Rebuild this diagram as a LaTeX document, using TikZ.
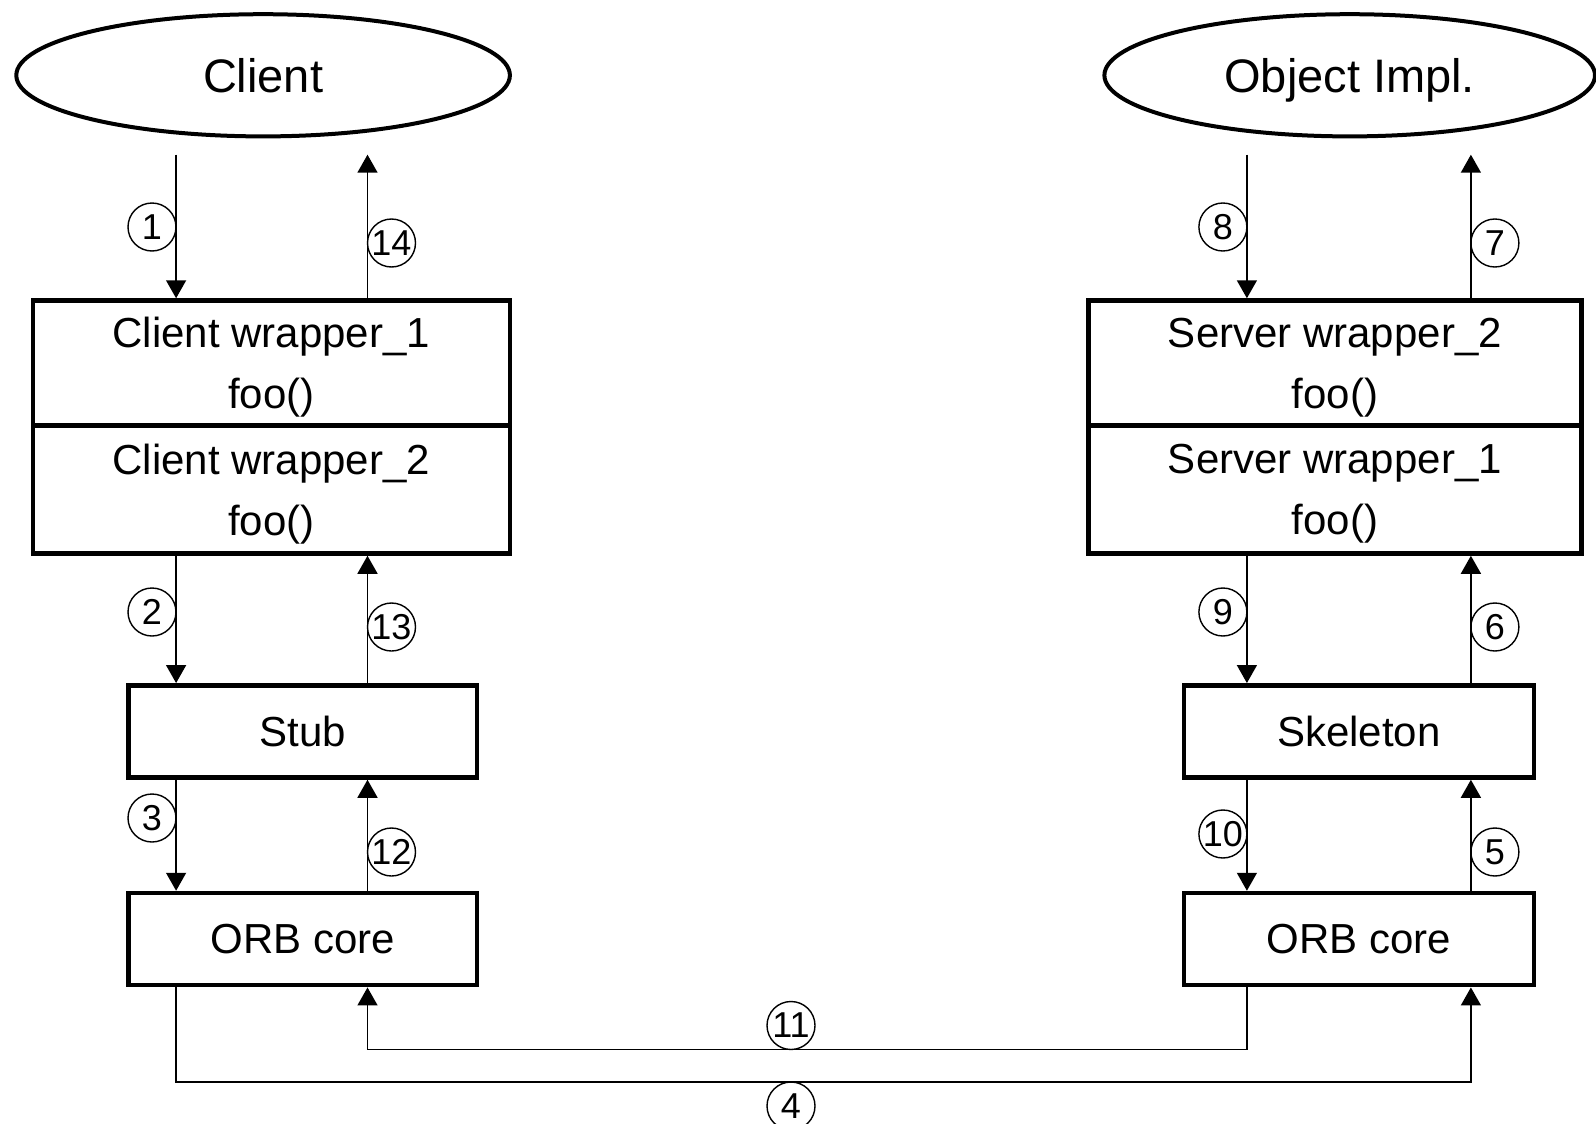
\documentclass[tikz,border=0pt]{standalone}
\usepackage{fontspec}
\setmainfont{Liberation Sans}
\usetikzlibrary{arrows.meta,shapes.geometric}

\begin{document}
\begin{tikzpicture}[x=0.5pt, y=-0.5pt,
  actor/.style={ellipse, draw, line width=2pt, inner sep=0pt, text depth=0pt,
    font=\fontsize{23.5}{28}\selectfont},
  layer/.style={rectangle, draw, line width=2.25pt, inner sep=0pt, text depth=0pt,
    align=center, font=\fontsize{21}{30.5}\selectfont},
  flow/.style={line width=0.75pt, -{Triangle[width=10pt,length=9pt]}},
  num/.style={circle, draw, line width=0.7pt, inner sep=0pt,
    minimum size=24pt, font=\fontsize{18}{18}\selectfont}]

\useasboundingbox (0,0) rectangle (1596,1124);

% column positions of the vertical connectors
\coordinate (Ld) at (176.1,0);
\coordinate (Lu) at (367.5,0);
\coordinate (Rd) at (1246.9,0);
\coordinate (Ru) at (1470.9,0);
% rows of the two long return lines
\coordinate (y11) at (0,1049.5);
\coordinate (y4) at (0,1082);
\coordinate (ytop) at (0,154.7);

% client side
\node[actor, minimum width=246.8pt, minimum height=61.1pt] (client) at (263.1,75.3) {Client};
\node[layer, minimum width=238.5pt, minimum height=62.5pt] (cw1) at (271.25,363) {Client wrapper\_1\\foo()};
\node[layer, minimum width=238.5pt, minimum height=64pt] (cw2) at (271.25,489.5) {Client wrapper\_2\\foo()};
\node[layer, minimum width=174.4pt, minimum height=46.1pt] (stub) at (302.8,731.4) {Stub};
\node[layer, minimum width=174.4pt, minimum height=46.1pt] (orbL) at (302.8,939.1) {ORB core};

% server side
\node[actor, minimum width=245.3pt, minimum height=61.1pt] (impl) at (1349.7,75.3) {Object Impl.};
\node[layer, minimum width=246.6pt, minimum height=62.5pt] (sw2) at (1334.9,363) {Server wrapper\_2\\foo()};
\node[layer, minimum width=246.6pt, minimum height=64pt] (sw1) at (1334.9,489.5) {Server wrapper\_1\\foo()};
\node[layer, minimum width=174.9pt, minimum height=46.1pt] (skel) at (1358.9,731.4) {Skeleton};
\node[layer, minimum width=174.9pt, minimum height=46.1pt] (orbR) at (1358.9,939.1) {ORB core};

% request path, client side
\draw[flow] (Ld |- ytop) -- (cw1.north -| Ld);
\draw[flow] (cw2.south -| Ld) -- (stub.north -| Ld);
\draw[flow] (stub.south -| Ld) -- (orbL.north -| Ld);
% reply path, client side
\draw[flow] (stub.north -| Lu) -- (cw2.south -| Lu);
\draw[flow] (orbL.north -| Lu) -- (stub.south -| Lu);
\draw[flow] (cw1.north -| Lu) -- (Lu |- ytop);

% request path, server side
\draw[flow] (orbR.north -| Ru) -- (skel.south -| Ru);
\draw[flow] (skel.north -| Ru) -- (sw1.south -| Ru);
\draw[flow] (sw2.north -| Ru) -- (Ru |- ytop);
% reply path, server side
\draw[flow] (Rd |- ytop) -- (sw2.north -| Rd);
\draw[flow] (sw1.south -| Rd) -- (skel.north -| Rd);
\draw[flow] (skel.south -| Rd) -- (orbR.north -| Rd);

% network between the two ORB cores
\draw[flow] (orbL.south -| Ld) -- (Ld |- y4) -- (Ru |- y4) -- (orbR.south -| Ru);
\draw[flow] (orbR.south -| Rd) -- (Rd |- y11) -- (Lu |- y11) -- (orbL.south -| Lu);

% step numbers
\node[num] (n1) at (152,227) {1};
\node[num] (n2) at (152,612) {2};
\node[num] (n3) at (152,818) {3};
\node[num] (n14) at (391.5,243) {14};
\node[num] (n13) at (391.5,627) {13};
\node[num] (n12) at (391.5,852) {12};
\node[num] (n8) at (1222.9,227) {8};
\node[num] (n9) at (1222.9,612) {9};
\node[num] (n10) at (1222.9,834) {10};
\node[num] (n7) at (1494.9,243) {7};
\node[num] (n6) at (1494.9,627) {6};
\node[num] (n5) at (1494.9,852) {5};
\node[num] (n11) at (791,1025.5) {11};
\node[num] (n4) at (791,1106) {4};

\end{tikzpicture}
\end{document}
